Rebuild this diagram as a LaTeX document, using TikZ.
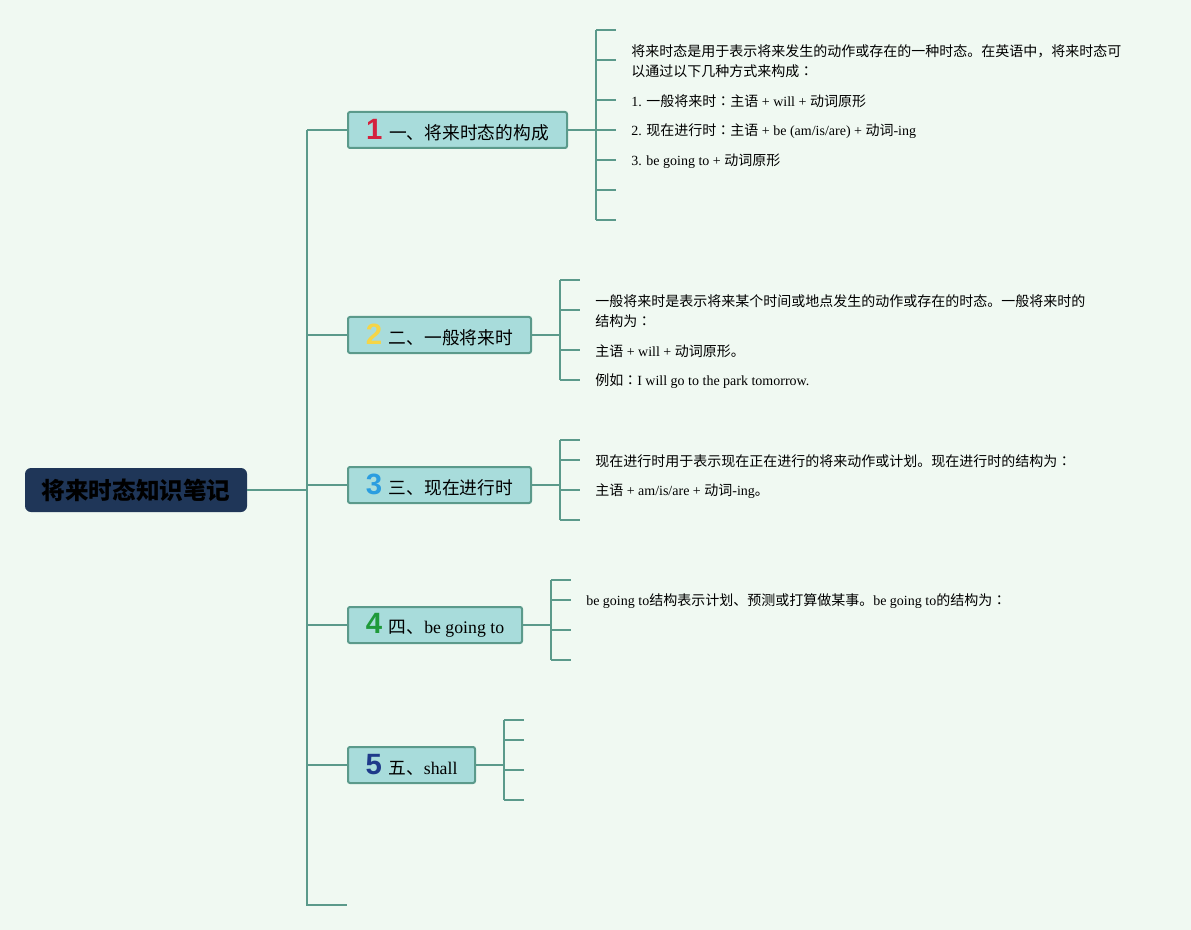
\documentclass[tikz,border=0pt]{standalone}
\usepackage{fontspec}
\setmainfont{Liberation Serif}
\newfontfamily\cjk{Noto Sans CJK SC}
\newfontfamily\cjktc{Noto Sans CJK TC}
\newfontfamily\numfont{Liberation Sans}
\usetikzlibrary{positioning}
\definecolor{bgcolor}{RGB}{240,249,242}
\definecolor{linkcolor}{RGB}{91,154,139}
\definecolor{topicfill}{RGB}{168,220,219}
\definecolor{rootcolor}{RGB}{31,54,88}
\definecolor{numred}{RGB}{212,33,61}
\definecolor{numyellow}{RGB}{245,213,71}
\definecolor{numblue}{RGB}{42,157,224}
\definecolor{numgreen}{RGB}{31,154,58}
\definecolor{numnavy}{RGB}{30,58,138}
\newcommand{\en}[1]{{\rmfamily #1}}
\newcommand{\colonw}{{\cjktc ：}}
\newcommand{\topicnum}[2]{{\numfont\bfseries\fontsize{22}{22}\selectfont\color{#1}#2}\hspace{5pt}}
\tikzset{
  link/.style={draw=linkcolor, line width=1.5pt},
  rootbox/.style={fill=rootcolor, rounded corners=4.5pt, minimum width=166.5pt,
    minimum height=33pt, inner sep=0pt, text=black,
    font=\cjk\bfseries\fontsize{17.7}{20}\selectfont},
  topicbox/.style={draw=linkcolor, fill=topicfill, line width=1.5pt,
    rounded corners=1.5pt, minimum height=27pt, inner xsep=6pt, inner ysep=0pt,
    anchor=west, font=\cjk\fontsize{13.3}{16}\selectfont},
  leaftext/.style={anchor=west, inner sep=0pt, align=left,
    font=\cjk\fontsize{10.5}{15}\selectfont},
}

\begin{document}
\begin{tikzpicture}[x=0.75pt, y=-0.75pt]
  \fill[bgcolor] (0,0) rectangle (1191,930);
  \useasboundingbox (0,0) rectangle (1191,930);

  \node[rootbox] (root) at (136,490) {将来时态知识笔记};

  \node[topicbox, minimum width=164.25pt] (t1) at (347,130) {\topicnum{numred}{1}一、将来时态的构成};
  \node[topicbox, minimum width=137.25pt] (t2) at (347,335) {\topicnum{numyellow}{2}二、一般将来时};
  \node[topicbox, minimum width=137.25pt] (t3) at (347,485) {\topicnum{numblue}{3}三、现在进行时};
  \node[topicbox, minimum width=130.5pt] (t4) at (347,625) {\topicnum{numgreen}{4}四、\en{be going to}};
  \node[topicbox, minimum width=95.25pt] (t5) at (347,765) {\topicnum{numnavy}{5}五、\en{shall}};

  % trunk
  \coordinate (trunk) at (307,490);
  \coordinate (tend) at (347,905);
  \draw[link] (root) -- (trunk);
  \draw[link] (t1.west -| trunk) -- (tend -| trunk) -- (tend);
  \foreach \n in {1,...,5}
    \draw[link] (t\n.west) -- (t\n.west -| trunk);

  % brackets
  \coordinate (b1) at (596,130);
  \coordinate (b2) at (560,335);
  \coordinate (b3) at (560,485);
  \coordinate (b4) at (551,625);
  \coordinate (b5) at (504,765);
  \foreach \n in {1,...,5}
    \draw[link] (t\n.east) -- (b\n);
  \draw[link] (b1 |- 0,30) -- (b1 |- 0,220);
  \foreach \y in {30,60,100,130,160,190,220}
    \draw[link] (b1 |- 0,\y) -- ++(20,0);
  \draw[link] (b2 |- 0,280) -- (b2 |- 0,380);
  \foreach \y in {280,310,350,380}
    \draw[link] (b2 |- 0,\y) -- ++(20,0);
  \draw[link] (b3 |- 0,440) -- (b3 |- 0,520);
  \foreach \y in {440,460,490,520}
    \draw[link] (b3 |- 0,\y) -- ++(20,0);
  \draw[link] (b4 |- 0,580) -- (b4 |- 0,660);
  \foreach \y in {580,600,630,660}
    \draw[link] (b4 |- 0,\y) -- ++(20,0);
  \draw[link] (b5 |- 0,720) -- (b5 |- 0,800);
  \foreach \y in {720,740,770,800}
    \draw[link] (b5 |- 0,\y) -- ++(20,0);

  % leaves
  \node[leaftext] (l11) at (631,61) {将来时态是用于表示将来发生的动作或存在的一种时态。在英语中，将来时态可\\以通过以下几种方式来构成\colonw};
  \node[leaftext] (l12) at (631,101) {\en{1. }一般将来时\colonw 主语\en{ + will + }动词原形};
  \node[leaftext] (l13) at (631,131) {\en{2. }现在进行时\colonw 主语\en{ + be (am/is/are) + }动词\en{-ing}};
  \node[leaftext] (l14) at (631,161) {\en{3. be going to + }动词原形};
  \node[leaftext] (l21) at (595,311) {一般将来时是表示将来某个时间或地点发生的动作或存在的时态。一般将来时的\\结构为\colonw};
  \node[leaftext] (l22) at (595,351) {主语\en{ + will + }动词原形。};
  \node[leaftext] (l23) at (595,381) {例如\colonw\en{I will go to the park tomorrow.}};
  \node[leaftext] (l31) at (595,461) {现在进行时用于表示现在正在进行的将来动作或计划。现在进行时的结构为\colonw};
  \node[leaftext] (l32) at (595,491) {主语\en{ + am/is/are + }动词\en{-ing}。};
  \node[leaftext] (l41) at (586,601) {\en{be going to}结构表示计划、预测或打算做某事。\en{be going to}的结构为\colonw};
\end{tikzpicture}
\end{document}
